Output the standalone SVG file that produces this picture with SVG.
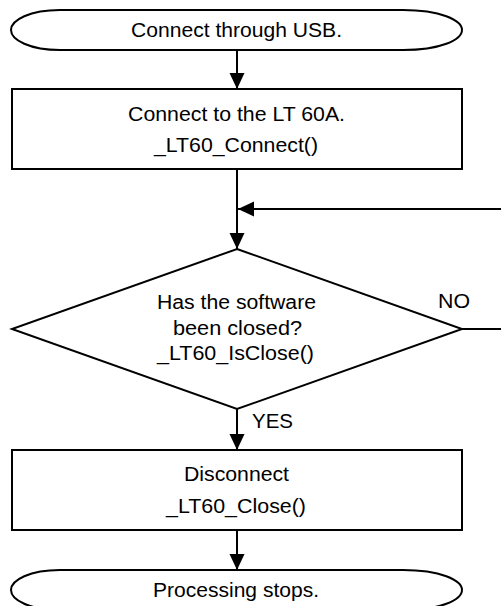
<svg xmlns="http://www.w3.org/2000/svg" width="501" height="606" viewBox="0 0 501 606">
<style>
.s{fill:#fff;stroke:#000;stroke-width:2}
.c{fill:none;stroke:#000;stroke-width:2}
text{font-family:"Liberation Sans",Arial,sans-serif;font-size:19.5px;fill:#000}
</style>
<defs>
<marker id="ah" markerUnits="userSpaceOnUse" markerWidth="17" markerHeight="16" refX="16" refY="7.5" orient="auto">
<path d="M0,0 L16,7.5 L0,15 Z" fill="#000"/>
</marker>
</defs>
<g id="start">
<path class="s" d="M60,10 L403,10 C440,10 462,20 462,30 C462,40 440,50 403,50 L60,50 C30,50 11,40 11,30 C11,20 30,10 60,10 Z"/>
<text x="131" y="37" textLength="211" lengthAdjust="spacingAndGlyphs">Connect through USB.</text>
</g>
<g id="connect">
<rect class="s" x="12" y="89" width="450" height="80"/>
<text x="128" y="121" textLength="217" lengthAdjust="spacingAndGlyphs">Connect to the LT 60A.</text>
<text x="154" y="152" textLength="164" lengthAdjust="spacingAndGlyphs">_LT60_Connect()</text>
</g>
<g id="decision">
<polygon class="s" points="237,249 462,329 237,409 12,329"/>
<text x="157" y="309" textLength="159" lengthAdjust="spacingAndGlyphs">Has the software</text>
<text x="173" y="335" textLength="129" lengthAdjust="spacingAndGlyphs">been closed?</text>
<text x="157" y="360" textLength="157" lengthAdjust="spacingAndGlyphs">_LT60_IsClose()</text>
</g>
<g id="disconnect">
<rect class="s" x="12" y="450" width="450" height="80"/>
<text x="184" y="481" textLength="105" lengthAdjust="spacingAndGlyphs">Disconnect</text>
<text x="166" y="513" textLength="140" lengthAdjust="spacingAndGlyphs">_LT60_Close()</text>
</g>
<g id="end">
<path class="s" d="M60,570 L403,570 C440,570 462,580 462,590 C462,600 440,610 403,610 L60,610 C30,610 11,600 11,590 C11,580 30,570 60,570 Z"/>
<text x="153" y="597" textLength="166" lengthAdjust="spacingAndGlyphs">Processing stops.</text>
</g>
<g id="connectors">
<line class="c" x1="237" y1="50" x2="237" y2="89" marker-end="url(#ah)"/>
<line class="c" x1="237" y1="169" x2="237" y2="249" marker-end="url(#ah)"/>
<polyline class="c" points="462,329 503,329 503,209 238,209" marker-end="url(#ah)"/>
<line class="c" x1="237" y1="409" x2="237" y2="450" marker-end="url(#ah)"/>
<line class="c" x1="237" y1="530" x2="237" y2="570" marker-end="url(#ah)"/>
<text x="438" y="308" textLength="32" lengthAdjust="spacingAndGlyphs">NO</text>
<text x="252" y="428" textLength="41" lengthAdjust="spacingAndGlyphs">YES</text>
</g>
</svg>
